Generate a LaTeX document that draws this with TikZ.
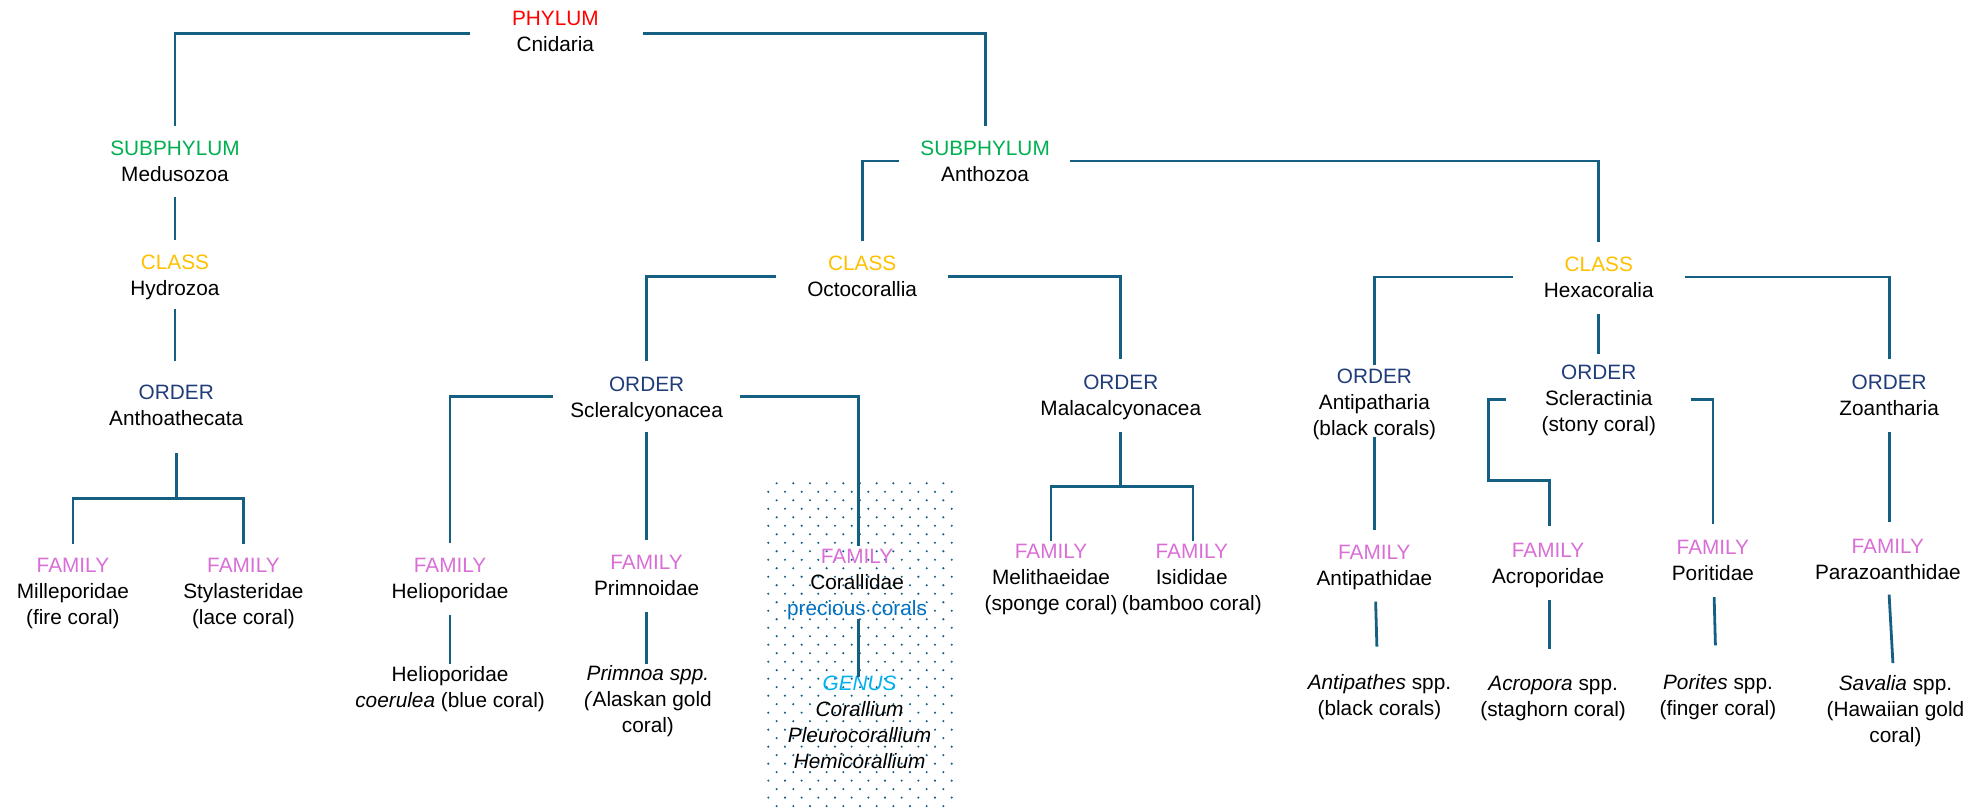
\documentclass[tikz,border=0pt]{standalone}
\usepackage{fontspec}
\setmainfont{Liberation Sans}
\usetikzlibrary{calc}
\definecolor{lineblue}{RGB}{21,96,130}
\definecolor{cphylum}{HTML}{FF0000}
\definecolor{csub}{HTML}{00B050}
\definecolor{cclass}{HTML}{FFC000}
\definecolor{corder}{HTML}{203C7A}
\definecolor{cfamily}{HTML}{D96FD6}
\definecolor{cprecious}{HTML}{0070C0}
\definecolor{cgenus}{HTML}{00B0F0}
\tikzset{
  tx/.style={align=center, inner sep=0pt, outer sep=0pt, anchor=north,
    font=\fontsize{8.2pt}{10.25pt}\selectfont},
  conn/.style={draw=lineblue, line width=1.1pt},
  dotfill/.style={fill=lineblue}
}
\newcommand{\rkP}[1]{\textcolor{cphylum}{#1}}
\newcommand{\rkS}[1]{\textcolor{csub}{#1}}
\newcommand{\rkC}[1]{\textcolor{cclass}{#1}}
\newcommand{\rkO}[1]{\textcolor{corder}{#1}}
\newcommand{\rkF}[1]{\textcolor{cfamily}{#1}}
\begin{document}
\begin{tikzpicture}[x=0.5pt,y=-0.5pt]
\useasboundingbox (0,0) rectangle (1568,637);
% dotted background box
\begin{scope}
\clip (604,379) rectangle (752,637);
\foreach \r in {0,...,39}{
  \foreach \j in {0,...,11}{
    \pgfmathsetmacro\dxx{605.98+13.15*\j+(isodd(\r)?0:6.57)}
    \pgfmathsetmacro\dyy{381.2+6.70*\r}
    \fill[dotfill] (\dxx,\dyy) circle[radius=0.46pt];
  }
}
\end{scope}
% nodes
\node[tx] (phylum) at (438,9) {\rkP{PHYLUM}\\Cnidaria};
\node[tx] (medusozoa) at (138,111) {\rkS{SUBPHYLUM}\\Medusozoa};
\node[tx] (anthozoa) at (777,111) {\rkS{SUBPHYLUM}\\Anthozoa};
\node[tx] (hydrozoa) at (138,201) {\rkC{CLASS}\\Hydrozoa};
\node[tx] (octocorallia) at (680,202) {\rkC{CLASS}\\Octocorallia};
\node[tx] (hexacoralia) at (1261,203) {\rkC{CLASS}\\Hexacoralia};
\node[tx] (anthoathecata) at (139,304) {\rkO{ORDER}\\Anthoathecata};
\node[tx] (scleralcyonacea) at (510,297) {\rkO{ORDER}\\Scleralcyonacea};
\node[tx] (malacalcyonacea) at (884,296) {\rkO{ORDER}\\Malacalcyonacea};
\node[tx] (antipatharia) at (1084,291) {\rkO{ORDER}\\Antipatharia\\(black corals)};
\node[tx] (scleractinia) at (1261,288) {\rkO{ORDER}\\Scleractinia\\(stony coral)};
\node[tx] (zoantharia) at (1490,296) {\rkO{ORDER}\\Zoantharia};
\node[tx] (milleporidae) at (57.5,440) {\rkF{FAMILY}\\Milleporidae\\(fire coral)};
\node[tx] (stylasteridae) at (192,440) {\rkF{FAMILY}\\Stylasteridae\\(lace coral)};
\node[tx] (helioporidaeF) at (355,440) {\rkF{FAMILY}\\Helioporidae};
\node[tx] (helioporidaeS) at (355,526) {Helioporidae\\\textit{coerulea} (blue coral)};
\node[tx] (primnoidae) at (510,438) {\rkF{FAMILY}\\Primnoidae};
\node[tx] (primnoa) at (511,525) {\textit{Primnoa spp.}\\\textit{(}Alaskan gold\\coral)};
\node[tx] (corallidae) at (676,433) {\rkF{FAMILY}\\Corallidae\\\textcolor{cprecious}{precious corals}};
\node[tx] (genus) at (678,533) {\textcolor{cgenus}{\textit{GENUS}}\\\textit{Corallium}\\\textit{Pleurocorallium}\\\textit{Hemicorallium}};
\node[tx] (melithaeidae) at (829,429) {\rkF{FAMILY}\\Melithaeidae\\(sponge coral)};
\node[tx] (isididae) at (940,429) {\rkF{FAMILY}\\Isididae\\(bamboo coral)};
\node[tx] (antipathidae) at (1084,430) {\rkF{FAMILY}\\Antipathidae};
\node[tx] (acroporidae) at (1221,428.5) {\rkF{FAMILY}\\Acroporidae};
\node[tx] (poritidae) at (1351,426) {\rkF{FAMILY}\\Poritidae};
\node[tx] (parazoanthidae) at (1489,425) {\rkF{FAMILY}\\Parazoanthidae};
\node[tx] (antipathes) at (1088,532) {\textit{Antipathes} spp.\\(black corals)};
\node[tx] (acropora) at (1225,533) {\textit{Acropora} spp.\\(staghorn coral)};
\node[tx] (porites) at (1355,532) {\textit{Porites} spp.\\(finger coral)};
\node[tx] (savalia) at (1495,533) {\textit{Savalia} spp.\\(Hawaiian gold\\coral)};
% connectors
\draw[conn] ($(phylum.north)+(-67,17.3)$) -| ($(medusozoa.north)+(0,-12)$);
\draw[conn] ($(phylum.north)+(69,17.3)$) -| ($(anthozoa.north)+(0,-12)$);
\draw[conn] ($(medusozoa.north)+(0,44)$) -- ($(hydrozoa.north)+(0,-12)$);
\draw[conn] ($(hydrozoa.north)+(0,43)$) -- ($(anthoathecata.north)+(-1,-19)$);
\draw[conn] ($(anthoathecata.north)+(0,53)$) -- ($(anthoathecata.north)+(0,89)$) coordinate (anthJ);
\draw[conn] (anthJ) -| ($(milleporidae.north)+(0,-11)$);
\draw[conn] (anthJ) -| ($(stylasteridae.north)+(0,-11)$);
\draw[conn] ($(anthozoa.north)+(-68,16)$) -| ($(octocorallia.north)+(0,-12)$);
\draw[conn] ($(anthozoa.north)+(67,16)$) -| ($(hexacoralia.north)+(0,-12)$);
\draw[conn] ($(octocorallia.north)+(-68,16)$) -| ($(scleralcyonacea.north)+(0,-12)$);
\draw[conn] ($(octocorallia.north)+(68,16)$) -| ($(malacalcyonacea.north)+(0,-13)$);
\draw[conn] ($(hexacoralia.north)+(-68,15.5)$) -| ($(antipatharia.north)+(0,-3)$);
\draw[conn] ($(hexacoralia.north)+(0,45)$) -- ($(scleractinia.north)+(0,-9)$);
\draw[conn] ($(hexacoralia.north)+(68,15.5)$) -| ($(zoantharia.north)+(0,-13)$);
\draw[conn] ($(scleralcyonacea.north)+(-74,16)$) -| ($(helioporidaeF.north)+(0,-12)$);
\draw[conn] ($(scleralcyonacea.north)+(0,44)$) -- ($(primnoidae.north)+(0,-12)$);
\draw[conn] ($(scleralcyonacea.north)+(74,16)$) -| ($(corallidae.north)+(1,-2)$);
\draw[conn] ($(helioporidaeF.north)+(0,45)$) -- ($(helioporidaeS.north)+(0,-2)$);
\draw[conn] ($(primnoidae.north)+(0,45)$) -- ($(primnoa.north)+(-1,-1)$);
\draw[conn] ($(corallidae.north)+(1,55)$) -- ($(genus.north)+(-1,1)$);
\draw[conn] ($(malacalcyonacea.north)+(0,45)$) -- ($(malacalcyonacea.north)+(0,88)$) coordinate (malaJ);
\draw[conn] (malaJ) -| ($(melithaeidae.north)+(0,-2)$);
\draw[conn] (malaJ) -| ($(isididae.north)+(1,-2)$);
\draw[conn] ($(antipatharia.north)+(0,54)$) -- ($(antipathidae.north)+(0,-12)$);
\draw[conn] ($(scleractinia.north)+(-73,27)$) -- ++(-14,0) -- ++(0,64) -| ($(acroporidae.north)+(1,-14)$);
\draw[conn] ($(scleractinia.north)+(73,27)$) -| ($(poritidae.north)+(0,-13)$);
\draw[conn] ($(zoantharia.north)+(0,45)$) -- ($(parazoanthidae.north)+(1,-13)$);
\draw[conn] ($(antipathidae.north)+(1,44.5)$) -- ($(antipathes.north)+(-2,-22)$);
\draw[conn] ($(acroporidae.north)+(1,44.5)$) -- ($(acropora.north)+(-3,-21)$);
\draw[conn] ($(poritidae.north)+(1,45)$) -- ($(porites.north)+(-2,-23)$);
\draw[conn] ($(parazoanthidae.north)+(1,44)$) -- ($(savalia.north)+(-2,-10)$);
\end{tikzpicture}
\end{document}
